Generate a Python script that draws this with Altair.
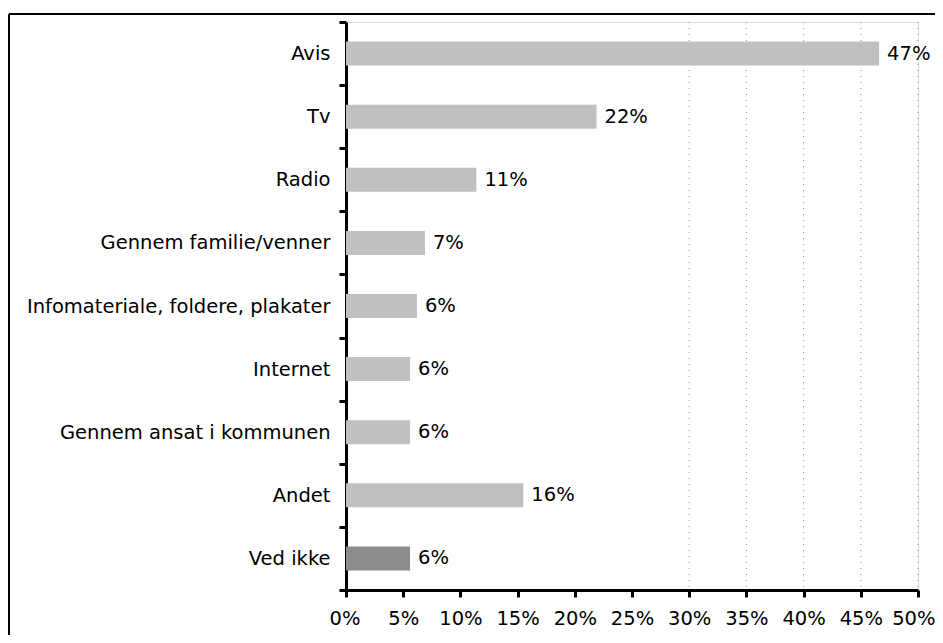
import altair as alt
import pandas as pd

categories = ["Avis", "Tv", "Radio", "Gennem familie/venner",
              "Infomateriale, foldere, plakater", "Internet",
              "Gennem ansat i kommunen", "Andet", "Ved ikke"]
values = [46.6, 21.9, 11.4, 6.9, 6.2, 5.6, 5.6, 15.5, 5.6]
labels = ["47%", "22%", "11%", "7%", "6%", "6%", "6%", "16%", "6%"]
groups = ["svar"] * 8 + ["ved ikke"]
x_ticks = [0, 5, 10, 15, 20, 25, 30, 35, 40, 45, 50]
grid_at = [30, 35, 40, 45, 50]

df = pd.DataFrame({"cat": categories, "val": values, "lab": labels, "grp": groups})
gdf = pd.DataFrame({"g": grid_at})

FONT = "DejaVu Sans"
FS = 19.5
W, H = 572, 568
PL, PT, PR, PB = 338, 14, 17, 45

y = alt.Y("cat:N", sort=categories, title=None,
          scale=alt.Scale(paddingInner=0, paddingOuter=0),
          axis=alt.Axis(tickBand="extent", tickSize=7, tickWidth=3, domainWidth=3,
                        domainColor="black", tickColor="black", labelFontSize=FS,
                        labelFont=FONT, labelColor="black", labelPadding=9,
                        labelLimit=400))
x = alt.X("val:Q", title=None,
          scale=alt.Scale(domain=[0, 50], nice=False),
          axis=alt.Axis(values=x_ticks, labelExpr="datum.value + '%'",
                        tickSize=7, tickWidth=3, domainWidth=3, domainColor="black",
                        tickColor="black", labelFontSize=FS, labelFont=FONT,
                        labelColor="black", labelPadding=12, labelOverlap=False,
                        labelFlush=True, labelFlushOffset=17, grid=False))

grid = alt.Chart(gdf).mark_rule(color="#8f8f8f", strokeWidth=1, strokeDash=[1, 5]).encode(
    x=alt.X("g:Q", scale=alt.Scale(domain=[0, 50], nice=False))
)

bars = alt.Chart(df).mark_bar(size=24).encode(
    x=x, y=y,
    color=alt.Color("grp:N", legend=None,
                    scale=alt.Scale(domain=["svar", "ved ikke"],
                                    range=["#c0c0c0", "#8c8c8c"]))
)

text = alt.Chart(df).mark_text(align="left", baseline="middle", dx=8,
                               fontSize=FS, font=FONT, color="black").encode(
    x="val:Q", y=alt.Y("cat:N", sort=categories), text="lab:N"
)

frame_top = alt.Chart(df.head(1)).mark_rule(color="black", strokeWidth=2).encode(
    x=alt.value(-337), x2=alt.value(W + PR), y=alt.value(-8)
)
frame_left = alt.Chart(df.head(1)).mark_rule(color="black", strokeWidth=2).encode(
    x=alt.value(-337), y=alt.value(-8), y2=alt.value(H + PB)
)

chart = alt.layer(grid, bars, text, frame_top, frame_left).properties(
    width=W, height=H,
    autosize=alt.AutoSizeParams(type="none"),
    padding={"left": PL, "top": PT, "right": PR, "bottom": PB},
).configure_view(stroke=None).configure(background="white")

chart.save("out.html", embed_options={"renderer": "svg", "actions": False})
